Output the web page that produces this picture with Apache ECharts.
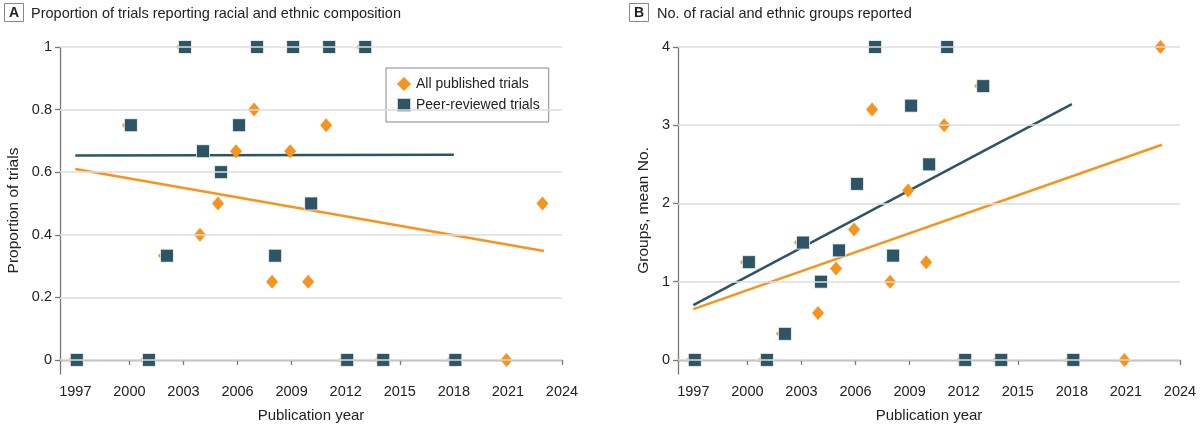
<!DOCTYPE html>
<html>
<head>
<meta charset="utf-8">
<script src="https://cdn.jsdelivr.net/npm/echarts@6/dist/echarts.min.js"></script>
<style>
  html, body { margin: 0; padding: 0; background: #fff; }
  #main { width: 1200px; height: 428px; }
</style>
</head>
<body>
<div id="main"></div>
<script>
// data
var allYears = [1997, 2000, 2001, 2002, 2003, 2004, 2005, 2006, 2007, 2008, 2009, 2010, 2011, 2012, 2013, 2014, 2018, 2021, 2023];
var allProp = [0, 0.75, 0, 0.333, 1, 0.4, 0.5, 0.667, 0.8, 0.25, 0.667, 0.25, 0.75, 0, 1, 0, 0, 0, 0.5];
var allGroups = [0, 1.25, 0, 0.333, 1.5, 0.6, 1.167, 1.667, 3.2, 1, 2.167, 1.25, 3, 0, 3.5, 0, 0, 0, 4];

var peerYears = [1997, 2000, 2001, 2002, 2003, 2004, 2005, 2006, 2007, 2008, 2009, 2010, 2011, 2012, 2013, 2014, 2018];
var peerProp = [0, 0.75, 0, 0.333, 1, 0.667, 0.6, 0.75, 1, 0.333, 1, 0.5, 1, 0, 1, 0, 0];
var peerGroups = [0, 1.25, 0, 0.333, 1.5, 1, 1.4, 2.25, 4, 1.333, 3.25, 2.5, 4, 0, 3.5, 0, 0];

// fitted lines (end points)
var allFitYears = [1997, 2023];
var allPropFit = [0.61, 0.348];
var allGroupsFit = [0.65, 2.75];
var peerFitYears = [1997, 2018];
var peerPropFit = [0.653, 0.656];
var peerGroupsFit = [0.70, 3.27];

// tick labels
var xTicks = [1997, 2000, 2003, 2006, 2009, 2012, 2015, 2018, 2021, 2024];
var yTicksA = [0, 0.2, 0.4, 0.6, 0.8, 1];
var yTicksB = [0, 1, 2, 3, 4];

var ORANGE = '#f7941d';
var TEAL = '#2d5566';
var FONT = '"Liberation Sans", Arial, sans-serif';

function pairs(xs, ys) {
  return xs.map(function (x, i) { return [x, ys[i]]; });
}

function xAxisCfg(gridIndex) {
  return {
    type: 'value', gridIndex: gridIndex, min: 1996.15, max: 2024,
    name: 'Publication year', nameLocation: 'middle', nameGap: 34,
    nameTextStyle: { fontFamily: FONT, fontSize: 15, color: '#222' },
    axisLine: { lineStyle: { color: '#777', width: 1.3 } },
    axisTick: { customValues: xTicks, length: 5, lineStyle: { color: '#777', width: 1.3 } },
    axisLabel: { customValues: xTicks, margin: 10, fontFamily: FONT, fontSize: 14.5, color: '#222',
      formatter: function (v) { return String(v); } },
    splitLine: { show: false }
  };
}

function yAxisCfg(gridIndex, min, max, ticks, name, gap) {
  return {
    type: 'value', gridIndex: gridIndex, min: min, max: max,
    name: name, nameLocation: 'middle', nameGap: gap, nameRotate: 90,
    nameTextStyle: { fontFamily: FONT, fontSize: 15.5, color: '#222' },
    axisLine: { show: true, lineStyle: { color: '#777', width: 1.3 } },
    axisTick: { show: true, customValues: ticks, length: 5, lineStyle: { color: '#777', width: 1.3 } },
    axisLabel: { customValues: ticks, margin: 8, fontFamily: FONT, fontSize: 14.5, color: '#222',
      formatter: function (v) { return String(v); } },
    splitLine: { show: false }
  };
}

// horizontal reference lines done with markLine so they sit on the tick values
function gridLines(ticks) {
  return {
    silent: true, symbol: 'none', label: { show: false },
    lineStyle: { color: '#dedede', width: 1.5, type: 'solid' },
    data: ticks.map(function (v) { return { yAxis: v }; })
  };
}

function fitLine(name, idx, xs, ys, color, marks) {
  var s = {
    name: name, type: 'line', xAxisIndex: idx, yAxisIndex: idx,
    data: pairs(xs, ys), showSymbol: false, silent: true, z: 1,
    lineStyle: { color: color, width: 2.5 }
  };
  if (marks) s.markLine = marks;
  return s;
}

function diamonds(idx, xs, ys) {
  return {
    name: 'All published trials', type: 'scatter', xAxisIndex: idx, yAxisIndex: idx,
    data: pairs(xs, ys), symbol: 'diamond', symbolSize: [12, 14], symbolOffset: [-1.5, 0],
    itemStyle: { color: ORANGE, opacity: 1 }, z: 3
  };
}

function squares(idx, xs, ys) {
  return {
    name: 'Peer-reviewed trials', type: 'scatter', xAxisIndex: idx, yAxisIndex: idx,
    data: pairs(xs, ys), symbol: 'rect', symbolSize: 13, symbolOffset: [1.5, 0],
    itemStyle: { color: TEAL, opacity: 1, borderColor: 'rgba(255,255,255,0.75)', borderWidth: 1 }, z: 4
  };
}

var chart = echarts.init(document.getElementById('main'));
chart.setOption({
  animation: false,
  textStyle: { fontFamily: FONT },
  title: [
    { text: 'A', left: 4, top: 3, padding: [3, 5, 2, 5], borderColor: '#888', borderWidth: 1,
      textStyle: { fontFamily: FONT, fontSize: 14, fontWeight: 'bold', color: '#222' } },
    { text: 'Proportion of trials reporting racial and ethnic composition', left: 31, top: 6, padding: 0,
      textStyle: { fontFamily: FONT, fontSize: 14.5, fontWeight: 'normal', color: '#222' } },
    { text: 'B', left: 629, top: 3, padding: [3, 5, 2, 5], borderColor: '#888', borderWidth: 1,
      textStyle: { fontFamily: FONT, fontSize: 14, fontWeight: 'bold', color: '#222' } },
    { text: 'No. of racial and ethnic groups reported', left: 657, top: 6, padding: 0,
      textStyle: { fontFamily: FONT, fontSize: 14.5, fontWeight: 'normal', color: '#222' } }
  ],
  legend: {
    data: ['All published trials', 'Peer-reviewed trials'],
    orient: 'vertical', left: 386, top: 68,
    padding: [9, 9, 9, 10], itemGap: 6, itemWidth: 14, itemHeight: 14,
    borderColor: '#888', borderWidth: 1, backgroundColor: '#fff',
    textStyle: { fontFamily: FONT, fontSize: 14, color: '#222' }
  },
  grid: [
    { left: 60, right: 638, top: 47, bottom: 54 },
    { left: 678, right: 20, top: 47, bottom: 54 }
  ],
  xAxis: [xAxisCfg(0), xAxisCfg(1)],
  yAxis: [
    yAxisCfg(0, -0.045, 1, yTicksA, 'Proportion of trials', 38),
    yAxisCfg(1, -0.18, 4, yTicksB, 'Groups, mean No.', 26)
  ],
  series: [
    fitLine('fitA_all', 0, allFitYears, allPropFit, ORANGE, gridLines(yTicksA)),
    fitLine('fitA_peer', 0, peerFitYears, peerPropFit, TEAL),
    diamonds(0, allYears, allProp),
    squares(0, peerYears, peerProp),
    fitLine('fitB_all', 1, allFitYears, allGroupsFit, ORANGE, gridLines(yTicksB)),
    fitLine('fitB_peer', 1, peerFitYears, peerGroupsFit, TEAL),
    diamonds(1, allYears, allGroups),
    squares(1, peerYears, peerGroups)
  ]
});
</script>
</body>
</html>
